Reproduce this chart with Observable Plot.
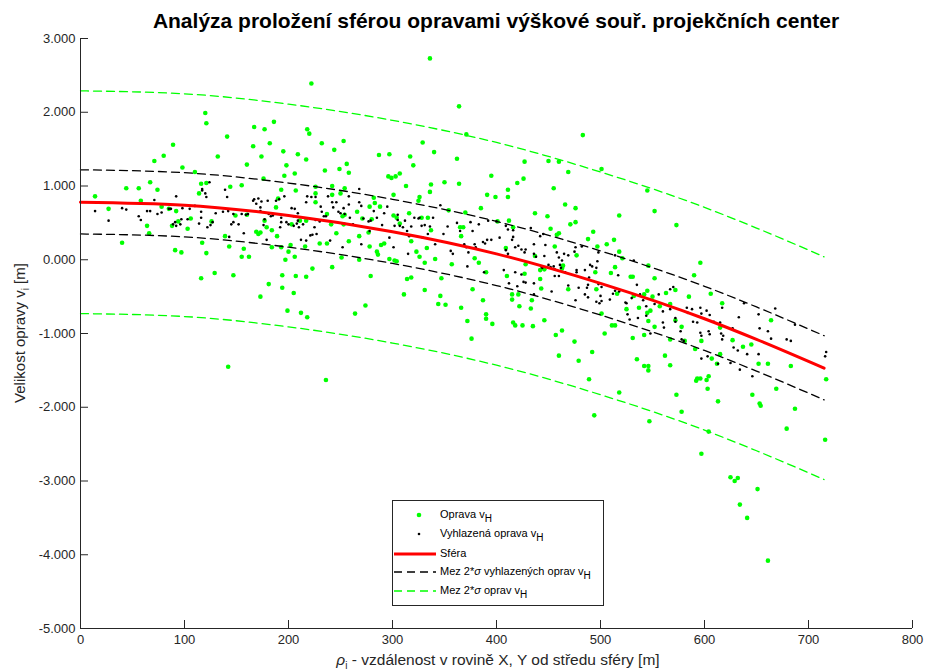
<!DOCTYPE html>
<html><head><meta charset="utf-8">
<script src="https://cdn.jsdelivr.net/npm/d3@7"></script>
<script src="https://cdn.jsdelivr.net/npm/@observablehq/plot@0.6"></script>
<style>
body{margin:0;background:#fff;}
#wrap{position:relative;width:929px;height:672px;font-family:"Liberation Sans",Arial,Helvetica,sans-serif;color:#262626;overflow:hidden;}
#title{position:absolute;left:80px;width:832px;top:9px;text-align:center;font-weight:bold;font-size:21px;color:#000;white-space:nowrap;}
#ylab{position:absolute;left:19px;top:333px;transform:translate(-50%,-50%) rotate(-90deg);font-size:15px;white-space:nowrap;}
#xlab{position:absolute;left:498px;top:660px;transform:translate(-50%,-50%);font-size:15.5px;white-space:nowrap;}
sub{font-size:10px;vertical-align:-4px;line-height:0;}
#legend{position:absolute;left:392px;top:500px;width:210px;height:104px;border:1px solid #262626;background:#fff;font-size:11px;color:#000;}
.row{position:absolute;left:0;width:210px;height:16px;}
.row svg{position:absolute;left:0;top:0;}
.row span{position:absolute;left:47px;top:1px;white-space:nowrap;}
</style></head>
<body>
<div id="wrap">
  <div id="chart"></div>
  <div id="title">Analýza proložení sférou opravami výškové souř. projekčních center</div>
  <div id="ylab">Velikost opravy v<sub>i</sub> [m]</div>
  <div id="xlab"><i>ρ</i><sub>i</sub> - vzdálenost v rovině X, Y od středu sféry [m]</div>
  <div id="legend"></div>
</div>
<script>
const xTicks = [0, 100, 200, 300, 400, 500, 600, 700, 800];
const yTicks = [-5, -4, -3, -2, -1, 0, 1, 2, 3];

// curve sample positions (ρ) and read values
const curveX      = [0, 100, 200, 300, 400, 500, 600, 650, 715];
const sphereY     = [0.78, 0.74, 0.60, 0.38, 0.08, -0.32, -0.80, -1.08, -1.47];
const smoothUpper = [1.22, 1.18, 1.04, 0.82, 0.52, 0.12, -0.36, -0.64, -1.03];
const smoothLower = [0.35, 0.31, 0.17, -0.05, -0.35, -0.75, -1.23, -1.51, -1.90];
const rawUpper    = [2.29, 2.25, 2.11, 1.89, 1.59, 1.19, 0.71, 0.43, 0.04];
const rawLower    = [-0.73, -0.77, -0.91, -1.13, -1.43, -1.83, -2.31, -2.59, -2.98];

// Oprava vH (green points) [ρ, v]
const opravaPts = [
[14,0.86],[27,0.69],[40,0.23],[44,0.97],[56,0.97],[58,0.80],[64,0.46],[66,0.36],[67,1.05],[71,1.34],[74,0.95],[78,0.72],[80,1.41],[85,0.69],[88,0.46],[89,1.56],[91,0.13],[92,0.66],[94,0.52],[97,0.10],[98,1.25],[103,0.42],[106,0.56],[110,1.19],[114,0.90],[116,1.03],[116,-0.25],[117,0.23],[120,1.99],[121,1.85],[121,1.04],[121,0.09],[126,0.52],[129,-0.18],[132,1.40],[139,0.32],[141,1.67],[143,0.18],[144,0.99],[147,-0.21],[149,0.60],[155,1.01],[157,0.15],[155,0.04],[160,1.29],[160,0.61],[162,0.04],[166,1.54],[167,1.80],[169,0.38],[171,0.35],[173,0.37],[173,-0.50],[174,1.40],[176,1.10],[177,1.77],[177,0.53],[179,0.44],[181,-0.33],[182,1.58],[184,0.40],[184,0.17],[186,1.87],[188,0.71],[189,0.32],[190,0.83],[193,0.95],[193,0.17],[194,-0.38],[194,-0.21],[195,1.47],[196,1.14],[197,0.00],[198,1.28],[200,0.11],[202,0.20],[205,-0.45],[206,0.04],[207,0.94],[209,1.43],[203,0.48],
[142,-1.45],[199,-0.69],[212,-0.72],[218,-0.78],
[222,2.39],[336,2.73],[364,2.08],[371,1.70],[218,1.77],[220,1.71],[232,1.58],[253,1.61],[244,1.49],[217,1.36],[235,1.21],[249,1.23],[256,1.30],[258,1.18],[206,1.17],[287,1.42],[297,1.43],[317,1.40],[320,1.28],[329,1.59],[340,1.46],[362,1.37],[296,1.13],[299,1.11],[303,1.13],[307,1.17],[313,1.00],[337,1.02],[336,0.92],[350,1.05],[364,1.03],[395,1.14],[391,0.88],[399,0.85],[411,0.95],[411,0.85],[226,0.99],[242,1.00],[254,0.97],[226,0.90],[250,0.90],[226,0.78],[242,0.88],[282,0.84],[278,0.72],[283,0.77],[301,0.88],[326,0.85],[325,0.80],[288,0.72],[237,0.62],[252,0.59],[254,0.61],[266,0.65],[271,0.56],[280,0.55],[301,0.60],[304,0.57],[316,0.63],[328,0.57],[334,0.57],[337,0.40],[307,0.49],[354,0.67],[370,0.64],[385,0.70],[401,0.52],[412,0.53],[365,0.44],[368,0.44],[211,0.53],[217,0.53],[241,0.48],[253,0.48],[246,0.36],[216,0.18],[230,0.22],[237,0.22],[258,0.25],[268,0.32],[277,0.37],[278,0.18],[285,0.11],[286,0.07],[289,0.20],[292,0.22],[297,0.01],[302,-0.01],[304,-0.02],[318,0.25],[323,0.11],[326,0.04],[331,-0.04],[333,0.16],[341,0.01],[357,-0.06],[366,0.32],[379,0.02],[383,-0.04],[390,-0.17],[251,0.03],[268,0.00],[242,-0.10],[223,-0.12],[207,-0.22],[217,-0.23],[279,-0.22],[314,-0.26],[318,-0.24],[347,-0.25],[331,-0.41],[311,-0.47],[377,-0.40],[410,-0.22],
[236,-1.63],[264,-0.73],[274,-0.62],[344,-0.60],[346,-0.49],[351,-0.61],[366,-0.65],[372,-0.83],[376,-1.07],[387,-0.55],[390,-0.74],[390,-0.80],[396,-0.87],[415,-0.47],[415,-0.54],[421,-0.47],[422,-0.63],[416,-0.85],[418,-0.89],[425,-0.89],[433,-0.66],[434,-0.55],[435,-0.90],[446,-0.82],[457,-1.02],[463,-0.96],[460,-1.30],
[483,1.69],[427,1.33],[450,1.34],[460,1.33],[469,1.19],[420,1.04],[426,1.10],[455,0.97],[501,1.23],[545,0.94],[552,0.66],[437,0.63],[449,0.59],[466,0.75],[476,0.70],[476,0.51],[471,0.48],[518,0.60],[573,0.47],[416,0.44],[452,0.42],[458,0.34],[460,0.36],[493,0.38],[488,0.28],[506,0.21],[513,0.27],[497,0.18],[518,0.11],[521,0.02],[409,0.16],[456,0.18],[477,0.06],[437,0.05],[446,-0.13],[442,-0.14],[428,-0.06],[464,-0.08],[463,-0.12],[514,-0.10],[510,-0.18],[546,-0.08],[596,-0.04],[590,-0.21],[552,-0.25],[529,-0.23],[531,-0.23],[495,-0.17],[427,-0.19],[442,-0.26],[443,-0.39],[469,-0.40],[496,-0.40],[516,-0.46],[532,-0.49],[542,-0.47],[545,-0.42],[550,-0.50],[563,-0.45],[572,-0.41],[585,-0.50],[606,-0.46],[617,-0.59],[501,-0.73],[525,-0.67],[537,-0.65],[545,-0.72],[548,-0.69],[557,-0.63],[567,-0.60],[546,-0.83],[475,-1.11],[504,-1.00],[511,-0.89],[514,-0.89],[531,-1.06],[542,-1.02],[552,-0.91],[567,-1.08],[572,-0.82],[578,-0.91],[581,-1.10],[591,-1.21],[597,-1.10],[615,-0.92],
[664,-0.82],[627,-1.09],[637,-1.18],[645,-1.15],[652,-1.41],[661,-1.41],[683,-1.44],[717,-1.62],[669,-1.75],[646,-1.83],[653,-1.95],[654,-1.98],[687,-2.02],[679,-2.29],[716,-2.44],[625,-2.95],[629,-3.00],[632,-2.96],[651,-3.11],[634,-3.32],[641,-3.50],[661,-4.08],[604,-2.33],[597,-2.63],[613,-1.92],[602,-1.63],[604,-1.58],[596,-1.61],[593,-1.61],[592,-1.64],[603,-1.75],[612,-1.41],[607,-1.34],[615,-1.28],[573,-1.83],[578,-2.06],[567,-1.43],[562,-1.30],[546,-1.44],[542,-1.44],[546,-1.50],[535,-1.35],[518,-1.80],[547,-2.19],[494,-2.11],[489,-1.62],[479,-1.37],[492,-1.25]
];

// Vyhlazená oprava vH (black points) [ρ, v]
const vyhlazenaPts = [
[14,0.66],[27,0.53],[40,0.70],[44,0.68],[56,0.59],[58,0.54],[64,0.66],[67,0.66],[71,0.81],[74,0.62],[78,0.64],[85,0.69],[87,0.69],[92,0.86],[89,0.48],[91,0.51],[92,0.46],[96,0.48],[97,0.55],[98,0.70],[103,0.55],[105,0.69],[110,0.73],[114,0.49],[116,0.57],[116,0.65],[117,0.94],[117,0.96],[120,0.90],[121,0.85],[122,0.44],[124,1.05],[125,0.47],[127,0.51],[130,0.63],[139,0.95],[141,0.85],[137,0.65],[142,0.66],[143,0.31],[145,0.48],[147,0.62],[147,0.51],[152,0.48],[155,0.62],[157,0.36],[159,0.61],[161,0.62],[166,0.80],[167,0.82],[169,0.76],[171,0.83],[173,0.71],[174,0.79],[173,0.66],[176,0.47],[177,0.55],[180,0.80],[179,0.27],[181,0.62],[183,0.59],[185,0.60],[188,0.80],[191,0.82],[192,0.44],[193,0.57],[196,0.86],[193,0.51],[198,0.51],[200,0.48],[203,0.70],[205,0.46],[206,0.69],[208,0.49],[209,0.53],[210,0.44],
[209,0.63],[205,0.59],[214,0.48],[217,0.78],[218,0.86],[222,0.85],[226,0.85],[231,0.72],[232,0.65],[234,0.59],[236,0.59],[226,0.54],[230,0.52],[225,0.44],[227,0.35],[221,0.33],[212,0.27],[217,0.26],[238,0.86],[242,0.78],[243,0.71],[246,0.78],[248,0.65],[250,0.63],[253,0.70],[254,0.62],[258,0.75],[258,0.86],[259,0.57],[262,0.48],[268,0.96],[268,0.78],[270,0.73],[272,0.56],[277,0.52],[279,0.53],[282,0.66],[285,0.57],[290,0.47],[292,0.63],[295,0.72],[297,0.30],[301,0.17],[302,0.46],[305,0.61],[305,0.54],[307,0.46],[310,0.44],[312,0.53],[314,0.39],[316,0.32],[315,0.08],[318,0.45],[321,0.57],[325,0.56],[326,0.57],[328,0.46],[329,0.30],[331,0.47],[334,0.35],[336,0.45],[339,0.57],[341,0.21],[346,0.74],[349,0.35],[353,0.45],[356,0.12],[358,0.08],[362,0.50],[365,0.39],[369,0.21],[371,0.17],[373,0.10],[375,0.51],[377,0.39],[379,0.21],[380,0.17],[383,0.48],[387,0.24],[389,0.22],[391,0.27],[395,0.27],[392,0.53],[400,0.52],[403,0.30],[409,0.13],[411,0.08],[412,-0.32],[372,-0.09],[388,-0.17],[270,0.21],[252,0.17],[240,0.26],[223,0.34],[278,0.39],
[409,0.46],[411,0.41],[416,0.40],[416,0.31],[415,0.27],[433,0.43],[418,0.17],[421,0.19],[424,0.14],[427,0.10],[428,0.14],[436,0.21],[436,0.08],[438,0.04],[442,0.32],[445,0.35],[447,0.20],[446,0.05],[443,-0.09],[444,-0.11],[450,-0.07],[452,-0.10],[455,-0.09],[456,-0.13],[458,0.10],[460,0.03],[463,-0.01],[465,0.08],[469,0.06],[461,-0.07],[462,-0.11],[466,-0.17],[456,-0.22],[460,-0.22],[407,-0.14],[418,-0.17],[424,-0.20],[426,-0.30],[428,-0.31],[420,-0.36],[436,-0.32],[436,-0.47],[453,-0.43],[469,-0.35],[476,0.17],[477,-0.14],[477,-0.17],[475,0.11],[482,0.18],[485,-0.14],[490,-0.07],[492,-0.09],[497,-0.02],[496,-0.11],[488,-0.34],[489,-0.24],[498,0.10],[501,-0.37],[500,-0.49],[498,-0.33],[501,-0.56],[509,-0.54],[514,-0.42],[512,-0.46],[517,-0.21],[518,-0.43],[514,0.06],[532,-0.01],[535,-0.34],[538,-0.47],[541,-0.55],[544,-0.63],[530,-0.52],[524,-0.58],[525,-0.59],[526,-0.74],[528,-0.81],[536,-0.79],[544,-0.76],[548,-1.00],[552,-0.60],[556,-0.47],[560,-0.70],[560,-0.85],[567,-0.40],[570,-0.37],[572,-0.79],[572,-0.84],[577,-0.97],[578,-1.08],[580,-1.10],[567,-0.67],[583,-0.65],[584,-0.72],[588,-0.67],[589,-0.84],[593,-0.85],[596,-0.65],[597,-0.73],[602,-0.69],[605,-0.75],[604,-0.97],[605,-1.01],[597,-1.03],[596,-0.99],[609,-0.84],[615,-0.85],[617,-0.65],[616,-1.00],[617,-1.08],[618,-1.03],[615,-0.88],[561,-0.92],[476,-0.55],[479,-0.38],[488,-0.51],[496,-0.57],[499,-0.59],[487,-0.38],[485,-0.47],
[627,-0.93],[633,-0.78],[638,-0.59],[652,-0.74],[653,-0.93],[661,-0.97],[664,-1.07],[668,-0.66],[679,-1.08],[683,-1.10],[687,-0.88],[652,-1.28],[641,-1.28],[646,-1.58],[634,-1.49],[632,-1.23],[628,-1.19],[625,-1.40],[613,-1.41],[603,-1.31],[597,-1.34],[717,-1.25],[716,-1.31]
];

const legendLabels = [
  "Oprava v<sub>H</sub>",
  "Vyhlazená oprava v<sub>H</sub>",
  "Sféra",
  "Mez 2*<i>σ</i> vyhlazených oprav v<sub>H</sub>",
  "Mez 2*<i>σ</i> oprav v<sub>H</sub>"
];

const GREEN = "#00ff00";
const AX = "#262626";
const curve = (vals) => curveX.map((x, i) => ({x, y: vals[i]}));
const pts = (arr) => arr.map(([x, y]) => ({x, y}));

const chart = Plot.plot({
  width: 929, height: 672,
  marginLeft: 80, marginRight: 17, marginTop: 38, marginBottom: 44,
  x: {domain: [0, 800]},
  y: {domain: [-5, 3]},
  style: {fontFamily: "'Liberation Sans', Arial, Helvetica, sans-serif", fontSize: "13px", color: AX, background: "white"},
  marks: [
    Plot.dot(pts(opravaPts), {x: "x", y: "y", r: 2.3, fill: GREEN, stroke: "none"}),
    Plot.dot(pts(vyhlazenaPts), {x: "x", y: "y", r: 1.3, fill: "#000", stroke: "none"}),
    Plot.line(curve(sphereY), {x: "x", y: "y", stroke: "#ff0000", strokeWidth: 3, curve: "monotone-x"}),
    Plot.line(curve(smoothUpper), {x: "x", y: "y", stroke: "#000", strokeWidth: 1.3, strokeDasharray: "8,5", curve: "monotone-x"}),
    Plot.line(curve(smoothLower), {x: "x", y: "y", stroke: "#000", strokeWidth: 1.3, strokeDasharray: "8,5", curve: "monotone-x"}),
    Plot.line(curve(rawUpper), {x: "x", y: "y", stroke: GREEN, strokeWidth: 1.3, strokeDasharray: "8,5", curve: "monotone-x"}),
    Plot.line(curve(rawLower), {x: "x", y: "y", stroke: GREEN, strokeWidth: 1.3, strokeDasharray: "8,5", curve: "monotone-x"}),
    Plot.ruleX([0], {stroke: AX, strokeWidth: 1}),
    Plot.ruleY([-5], {stroke: AX, strokeWidth: 1}),
    Plot.axisX({ticks: xTicks, tickSize: 0, tickPadding: 6, tickFormat: d => String(d), label: null, fill: AX}),
    Plot.axisX({ticks: xTicks, tickSize: 8, dy: -8, fill: "none", stroke: AX, label: null}),
    Plot.axisY({ticks: yTicks, tickSize: 0, tickPadding: 5, tickFormat: d => d.toFixed(3), label: null, fill: AX}),
    Plot.axisY({ticks: yTicks, tickSize: 8, dx: 8, fill: "none", stroke: AX, label: null})
  ]
});
document.getElementById("chart").appendChild(chart);

// legend
const legend = document.getElementById("legend");
const rowTops = [6, 25, 45, 63, 82];
const symbols = [
  `<circle cx="26" cy="8" r="2.3" fill="${GREEN}"/>`,
  `<circle cx="26" cy="8" r="1.3" fill="#000"/>`,
  `<line x1="1" y1="8" x2="43" y2="8" stroke="#ff0000" stroke-width="3"/>`,
  `<line x1="1" y1="8" x2="43" y2="8" stroke="#000" stroke-width="1.3" stroke-dasharray="8,5"/>`,
  `<line x1="1" y1="8" x2="43" y2="8" stroke="${GREEN}" stroke-width="1.3" stroke-dasharray="8,5"/>`
];
legendLabels.forEach((lab, i) => {
  const row = document.createElement("div");
  row.className = "row";
  row.style.top = rowTops[i] + "px";
  row.innerHTML = `<svg width="46" height="16">${symbols[i]}</svg><span>${lab}</span>`;
  legend.appendChild(row);
});
</script>
</body></html>
